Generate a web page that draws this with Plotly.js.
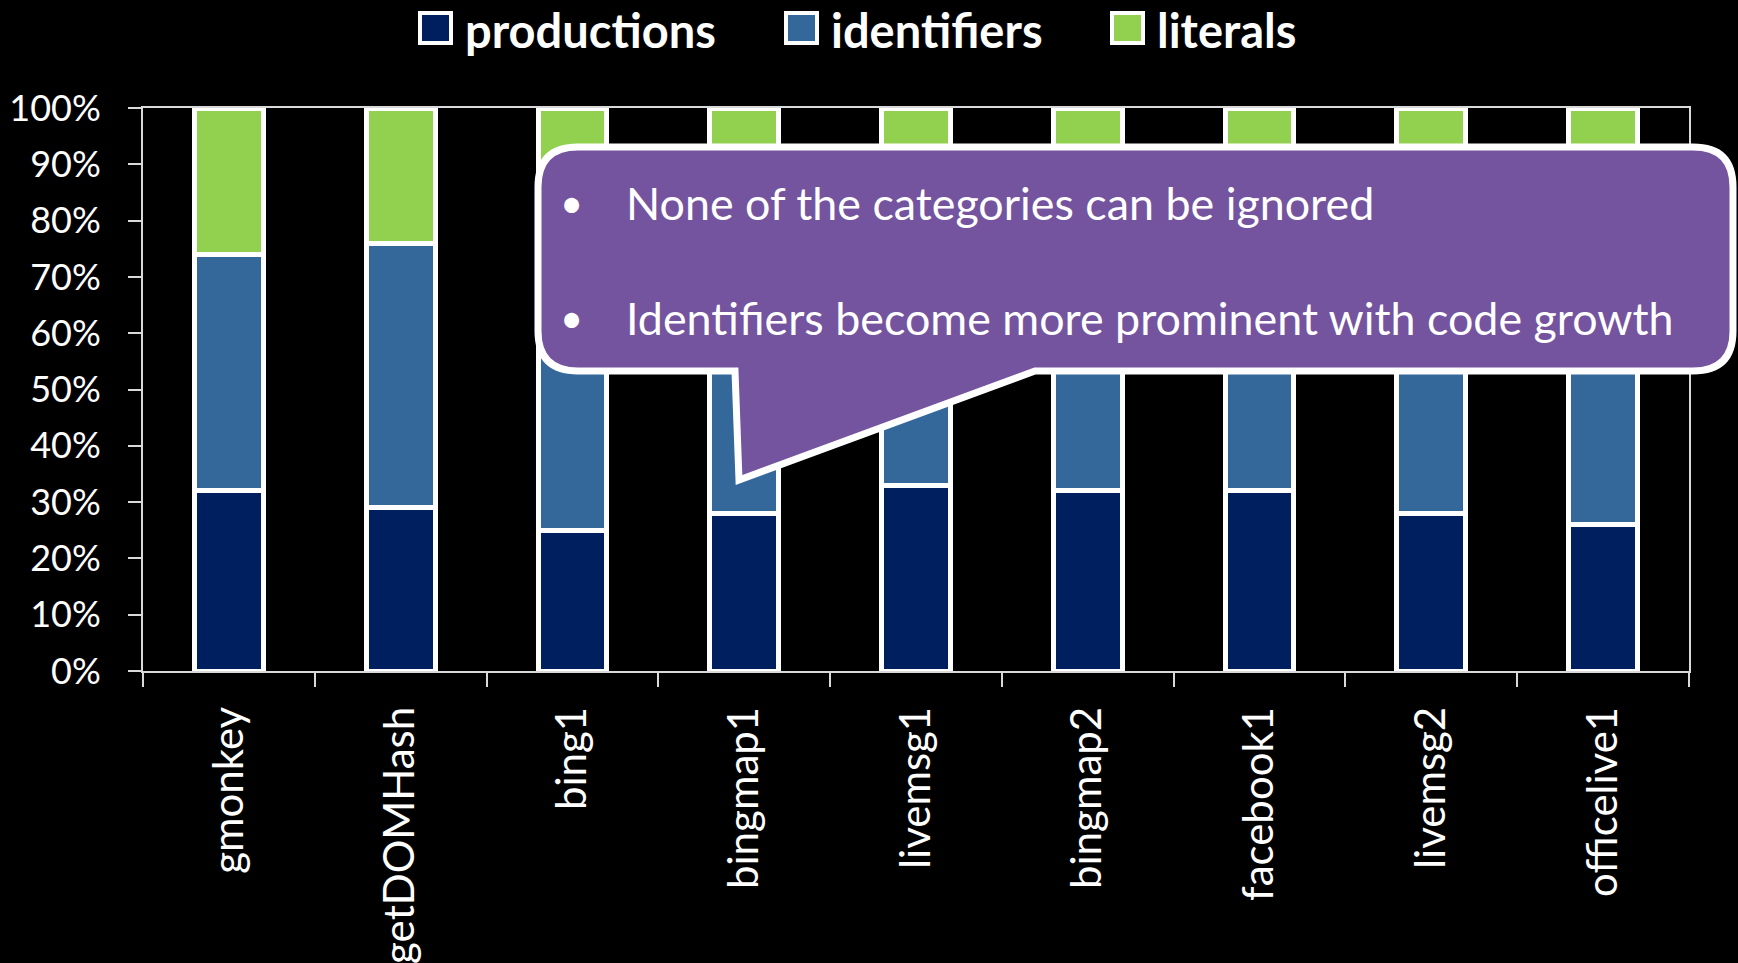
<!DOCTYPE html>
<html>
<head>
<meta charset="utf-8">
<script src="https://cdn.plot.ly/plotly-3.0.1.min.js"></script>
<style>
html,body{margin:0;padding:0;background:#000;}
#chart{width:1738px;height:963px;}
</style>
</head>
<body>
<div id="chart"></div>
<script>
// ---- data ----
const categories = ['gmonkey','getDOMHash','bing1','bingmap1','livemsg1','bingmap2','facebook1','livemsg2','officelive1'];
const productions = [0.32, 0.29, 0.25, 0.28, 0.33, 0.32, 0.32, 0.28, 0.26];
const identifiers = [0.42, 0.47, 0.62, 0.58, 0.54, 0.56, 0.55, 0.60, 0.62];
const literals    = [0.26, 0.24, 0.13, 0.14, 0.13, 0.12, 0.13, 0.12, 0.12];
const seriesNames = ['productions', 'identifiers', 'literals'];
const seriesColors = ['#001F5F', '#34679A', '#92D050'];
const calloutLines = ['None of the categories can be ignored', 'Identifiers become more prominent with code growth'];

// ---- layout geometry (pixels) ----
const W = 1738, H = 963;
const M = {l: 143, r: 49, t: 108, b: 292};
const PW = W - M.l - M.r, PH = H - M.t - M.b;
const px = x => (x - M.l) / PW;
const py = y => 1 - (y - M.t) / PH;

const seriesValues = [productions, identifiers, literals];
const traces = seriesNames.map((name, i) => ({
  type: 'bar',
  name: name,
  x: categories,
  y: seriesValues[i],
  marker: {color: seriesColors[i], line: {color: '#FFFFFF', width: 5}},
  showlegend: false,
  hoverinfo: 'x+y+name'
}));

// callout path (rounded rectangle with a tail)
function P(x, y) { return px(x).toFixed(5) + ',' + py(y).toFixed(5); }
const cl = 538, ct = 147, cr = 1733, cb = 371, rad = 40;
const tailL = 735, tailR = 1035, tipX = 739, tipY = 480;
const calloutPath =
  'M' + P(cl + rad, ct) +
  ' L' + P(cr - rad, ct) +
  ' Q' + P(cr, ct) + ' ' + P(cr, ct + rad) +
  ' L' + P(cr, cb - rad) +
  ' Q' + P(cr, cb) + ' ' + P(cr - rad, cb) +
  ' L' + P(tailR, cb) +
  ' L' + P(tipX, tipY) +
  ' L' + P(tailL, cb) +
  ' L' + P(cl + rad, cb) +
  ' Q' + P(cl, cb) + ' ' + P(cl, cb - rad) +
  ' L' + P(cl, ct + rad) +
  ' Q' + P(cl, ct) + ' ' + P(cl + rad, ct) + ' Z';

const shapes = [{
  type: 'path', xref: 'paper', yref: 'paper', layer: 'above',
  path: calloutPath,
  fillcolor: '#74539F',
  line: {color: '#FFFFFF', width: 7}
}];

// legend (manual, large swatches)
const legendSwatchX = [420, 786, 1112];
const annotations = [];
seriesNames.forEach((name, i) => {
  const x0 = legendSwatchX[i];
  shapes.push({
    type: 'rect', xref: 'paper', yref: 'paper', layer: 'above',
    x0: px(x0), x1: px(x0 + 31), y0: py(43), y1: py(13),
    fillcolor: seriesColors[i],
    line: {color: '#FFFFFF', width: 4}
  });
  annotations.push({
    xref: 'paper', yref: 'paper', x: px(x0 + 44), y: py(30),
    xanchor: 'left', yanchor: 'middle', showarrow: false,
    borderpad: 0,
    text: '<b>' + name + '</b>',
    font: {family: 'Lato, sans-serif', size: 47, color: '#FFFFFF'}
  });
});

// callout text
const lineY = [203, 318];
calloutLines.forEach((t, i) => {
  annotations.push({
    xref: 'paper', yref: 'paper', x: px(571), y: py(lineY[i]),
    xanchor: 'center', yanchor: 'middle', showarrow: false,
    text: '•', font: {family: 'Lato, sans-serif', size: 40, color: '#FFFFFF'}
  });
  annotations.push({
    xref: 'paper', yref: 'paper', x: px(624), y: py(lineY[i]),
    xanchor: 'left', yanchor: 'middle', showarrow: false,
    text: t, font: {family: 'Lato, sans-serif', size: 44.8, color: '#FFFFFF'}
  });
});

const axisColor = '#D9D9D9';
const layout = {
  width: W, height: H,
  margin: M,
  paper_bgcolor: '#000000',
  plot_bgcolor: '#000000',
  barmode: 'stack',
  bargap: 0.6,
  showlegend: false,
  font: {family: 'Lato, sans-serif', color: '#FFFFFF'},
  xaxis: {
    type: 'category',
    tickson: 'boundaries',
    ticks: 'outside', ticklen: 14, tickwidth: 2, tickcolor: axisColor,
    showline: true, linecolor: axisColor, linewidth: 2, mirror: true,
    showgrid: false, zeroline: false,
    tickangle: -90,
    ticklabelstandoff: 17,
    tickfont: {family: 'Lato, sans-serif', size: 42, color: '#FFFFFF'}
  },
  yaxis: {
    range: [0, 1],
    dtick: 0.1, tick0: 0,
    tickformat: '.0%',
    ticks: 'outside', ticklen: 13, tickwidth: 2, tickcolor: axisColor,
    showline: true, linecolor: axisColor, linewidth: 2, mirror: true,
    showgrid: false, zeroline: false,
    ticklabelstandoff: 20,
    tickfont: {family: 'Lato, sans-serif', size: 36, color: '#FFFFFF'}
  },
  shapes: shapes,
  annotations: annotations
};

Plotly.newPlot('chart', traces, layout, {displayModeBar: false, staticPlot: true});
</script>
</body>
</html>
